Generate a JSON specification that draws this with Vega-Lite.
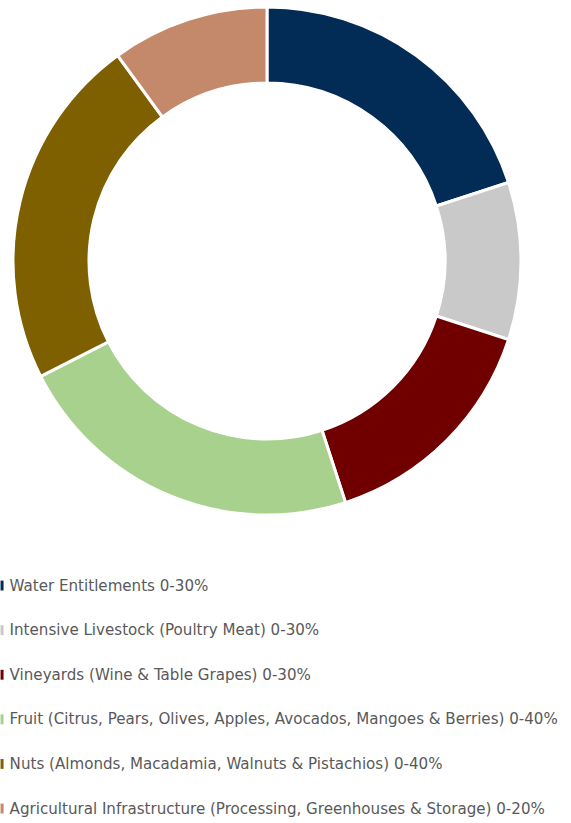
{
  "$schema": "https://vega.github.io/schema/vega-lite/v6.json",
  "width": 534,
  "height": 522,
  "padding": 0,
  "background": "white",
  "view": {"stroke": null},
  "data": {
    "values": [
      {"category": "Water Entitlements 0-30%", "share": 20.0, "rank": 1},
      {"category": "Intensive Livestock (Poultry Meat) 0-30%", "share": 10.0, "rank": 2},
      {"category": "Vineyards (Wine & Table Grapes) 0-30%", "share": 15.0, "rank": 3},
      {"category": "Fruit (Citrus, Pears, Olives, Apples, Avocados, Mangoes & Berries) 0-40%", "share": 22.5, "rank": 4},
      {"category": "Nuts (Almonds, Macadamia, Walnuts & Pistachios) 0-40%", "share": 22.5, "rank": 5},
      {"category": "Agricultural Infrastructure (Processing, Greenhouses & Storage) 0-20%", "share": 10.0, "rank": 6}
    ]
  },
  "mark": {"type": "arc", "outerRadius": 254, "innerRadius": 178, "stroke": "white", "strokeWidth": 3},
  "encoding": {
    "theta": {"field": "share", "type": "quantitative", "stack": true},
    "order": {"field": "rank", "type": "quantitative"},
    "color": {
      "field": "category",
      "type": "nominal",
      "scale": {
        "domain": [
          "Water Entitlements 0-30%",
          "Intensive Livestock (Poultry Meat) 0-30%",
          "Vineyards (Wine & Table Grapes) 0-30%",
          "Fruit (Citrus, Pears, Olives, Apples, Avocados, Mangoes & Berries) 0-40%",
          "Nuts (Almonds, Macadamia, Walnuts & Pistachios) 0-40%",
          "Agricultural Infrastructure (Processing, Greenhouses & Storage) 0-20%"
        ],
        "range": ["#022B56", "#C9C9C9", "#700000", "#A9D18E", "#7F6000", "#C4896A"]
      },
      "legend": {
        "orient": "none",
        "legendX": 0,
        "legendY": 578,
        "padding": 0,
        "symbolOffset": -5.5,
        "title": null,
        "symbolType": "M-1,-3.3H1V3.3H-1Z",
        "symbolSize": 9,
        "symbolStrokeWidth": 0,
        "labelFont": "DejaVu Sans",
        "labelFontSize": 15.1,
        "labelColor": "#595959",
        "labelLimit": 0,
        "rowPadding": 28.6,
        "labelOffset": 0
      }
    }
  }
}
